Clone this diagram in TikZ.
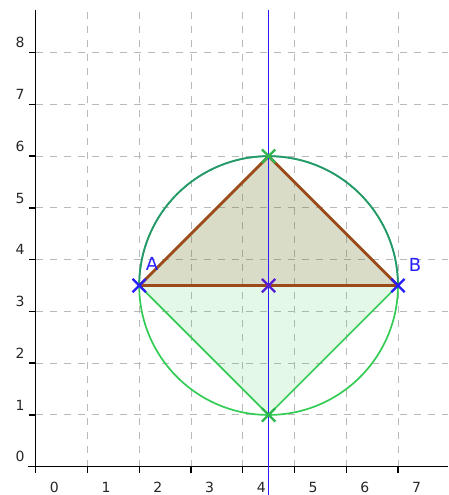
\documentclass[tikz,border=0pt]{standalone}
\usepackage{fontspec}
\setmainfont{DejaVu Sans}
\usetikzlibrary{shapes.misc}
\definecolor{gridgray}{RGB}{185,185,185}
\definecolor{brownl}{RGB}{156,74,26}
\definecolor{olivef}{RGB}{103,115,27}
\definecolor{greenl}{RGB}{51,204,85}
\definecolor{greenf}{RGB}{68,208,88}
\definecolor{tealc}{RGB}{40,150,110}
\definecolor{bluel}{RGB}{40,30,250}
\definecolor{purplex}{RGB}{85,30,210}
\tikzset{
  gridline/.style={gridgray, line width=0.9pt, dash pattern=on 7pt off 7pt},
  axisline/.style={black, line width=1.4pt},
  ticklab/.style={font=\fontsize{14}{14}\selectfont, text=black!85, inner sep=0pt},
  ptlab/.style={font=\fontsize{18}{18}\selectfont, text=bluel, inner sep=0pt},
  crossmark/.style={cross out, draw, line width=2.3pt, minimum size=11pt, inner sep=0pt},
}
\begin{document}
\begin{tikzpicture}[x=51.75pt,y=51.75pt]
\useasboundingbox (-0.690,-0.547) rectangle (7.967,9.018);
% grid
\foreach \i in {1,...,7} \draw[gridline] (\i,0) -- (\i,8.83);
\foreach \j in {1,...,8} \draw[gridline] (0,\j) -- (7.967,\j);
% points
\coordinate (A) at (2,3.5);
\coordinate (B) at (7,3.5);
\coordinate (M) at (4.5,3.5);
\coordinate (T) at (4.5,6);
\coordinate (D) at (4.5,1);
\coordinate (Ltop) at (4.5,8.83);
\coordinate (Lbot) at (4.5,-0.547);
% fills
\fill[olivef, fill opacity=0.25] (A) -- (T) -- (B) -- cycle;
\fill[greenf, fill opacity=0.15] (A) -- (D) -- (B) -- cycle;
% axes
\coordinate (xs) at (-0.15,0);
\coordinate (xe) at (7.967,0);
\coordinate (ys) at (0,-0.1);
\coordinate (ye) at (0,8.83);
\draw[axisline] (xs) -- (xe);
\draw[axisline] (ys) -- (ye);
\foreach \i in {0,...,7} {
  \draw[axisline] (\i,0) -- (\i,-0.12);
  \node[ticklab] (xl\i) at (\i+0.36,-0.40) {\i};
}
\foreach \j in {0,...,8} {
  \draw[axisline] (0,\j) -- (-0.12,\j);
  \node[ticklab] (yl\j) at (-0.30,\j+0.19) {\j};
}
% circle
\draw[greenl, line width=1.7pt] (M) circle (2.5);
\draw[tealc, line width=1.7pt] (B) arc (0:180:2.5);
% triangle lines
\draw[greenl, line width=1.7pt] (A) -- (D) -- (B);
\draw[brownl, line width=2.8pt, line join=round] (A) -- (T) -- (B);
\draw[brownl, line width=2.8pt] (A) -- (B);
% perpendicular bisector
\draw[bluel, line width=1.4pt] (Ltop) -- (Lbot);
% markers
\node[crossmark, color=bluel] (mA) at (A) {};
\node[crossmark, color=bluel] (mB) at (B) {};
\node[crossmark, color=purplex] (mM) at (M) {};
\node[crossmark, color=greenl!90!black] (mT) at (T) {};
\node[crossmark, color=greenl!90!black] (mD) at (D) {};
% labels
\node[ptlab] (labA) at (2.25,3.92) {A};
\node[ptlab] (labB) at (7.33,3.90) {B};
\end{tikzpicture}
\end{document}
